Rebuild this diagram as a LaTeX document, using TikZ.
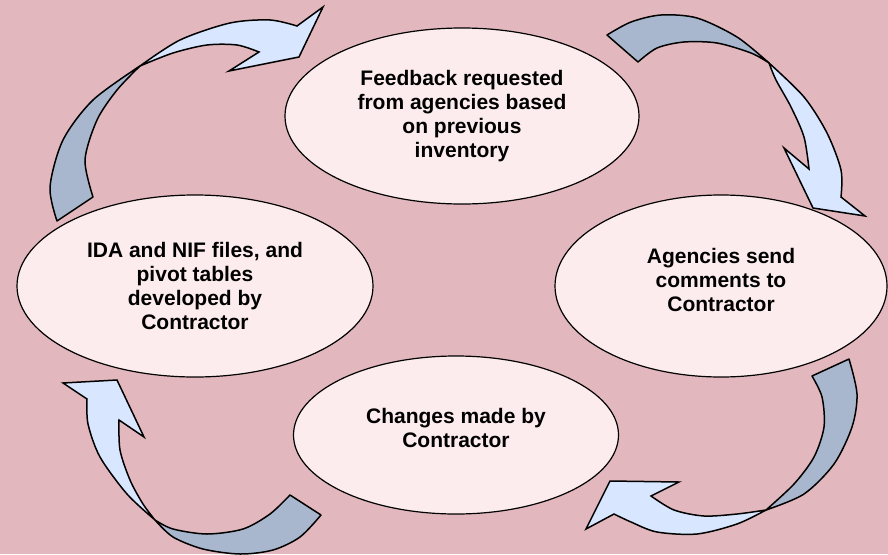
\documentclass[tikz,border=0pt]{standalone}
\usepackage{fontspec}
\setmainfont{Liberation Sans}
\usepackage{tikz}
\usetikzlibrary{shapes.geometric,positioning}

\definecolor{bgpink}{HTML}{E2B8BE}
\definecolor{ovalfill}{HTML}{FDECEE}
\definecolor{arrowback}{HTML}{A8B7CE}
\definecolor{arrowfront}{HTML}{D8E6FF}

\begin{document}
\begin{tikzpicture}[x=1pt,y=-1pt,
    oval/.style={ellipse, draw=black, line width=1.2pt, fill=ovalfill, inner sep=0pt},
    txt/.style={align=center, font=\bfseries\fontsize{21}{24.2}\selectfont},
    back/.style={draw=black, line width=1.5pt, fill=arrowback, line join=round},
    front/.style={draw=black, line width=1.5pt, fill=arrowfront, line join=miter}]
\fill[bgpink] (0,0) rectangle (888,554);
\useasboundingbox (0,0) rectangle (888,554);

\node[oval, minimum width=354pt, minimum height=176pt] (feedback) at (462,116) {};
\node[oval, minimum width=356pt, minimum height=182pt] (ida) at (195,286) {};
\node[oval, minimum width=332pt, minimum height=182pt] (agencies) at (721,286) {};
\node[oval, minimum width=325pt, minimum height=158pt] (changes) at (456,435) {};

\node[txt] (feedbacktxt) at (feedback) {Feedback requested\\from agencies based\\on previous\\inventory};
\node[txt] (idatxt) at (ida) {IDA and NIF files, and\\pivot tables\\developed by\\Contractor};
\node[txt] (agenciestxt) at ([yshift=6pt]agencies.center) {Agencies send\\comments to\\Contractor};
\node[txt] (changestxt) at ([yshift=7pt]changes.center) {Changes made by\\Contractor};

\filldraw[back] (57,221) -- plot[smooth] coordinates {(57,221) (50,187) (63,140) (93,100) (140,66)}
    -- plot[smooth] coordinates {(140,66) (117,90) (97,120) (85,160) (93,197)} -- cycle;
\filldraw[front] (140,66) -- plot[smooth] coordinates {(140,66) (180,40) (230,23) (270,20) (297,26)}
    -- (323,7) -- (299,57) -- (229,71)
    -- plot[smooth] coordinates {(259,52) (237,45) (207,45) (173,53) (140,66)} -- cycle;

\filldraw[back] (607,35) -- plot[smooth] coordinates {(607,35) (631,22) (661,15) (697,18) (737,37) (769,63)}
    -- plot[smooth] coordinates {(769,63) (751,53) (717,43) (684,42) (657,48) (638,62)} -- cycle;
\filldraw[front] (769,63) -- plot[smooth] coordinates {(769,63) (804,97) (827,133) (841,170) (841,197)}
    -- (865,216) -- (813,208) -- (784,148)
    -- plot[smooth] coordinates {(809,169) (804,137) (791,107) (776,80) (769,63)} -- cycle;

\filldraw[back] (849,359) -- plot[smooth] coordinates {(849,359) (857,394) (852,427) (834,464) (804,494) (766,510)}
    -- plot[smooth] coordinates {(766,510) (794,484) (814,457) (824,427) (822,397) (812,376)} -- cycle;
\filldraw[front] (766,510) -- plot[smooth] coordinates {(766,510) (737,524) (697,534) (657,532) (631,522) (614,514)}
    -- (586,529) -- (610,481) -- (679,482)
    -- plot[smooth] coordinates {(651,496) (674,510) (704,516) (737,514) (766,510)} -- cycle;

\filldraw[back] (290,495) -- plot[smooth] coordinates {(290,495) (270,514) (243,529) (207,534) (173,529) (155,520)}
    -- plot[smooth] coordinates {(155,520) (173,537) (203,549) (240,554) (273,550) (300,537) (321,515)} -- cycle;
\filldraw[front] (155,520) -- plot[smooth] coordinates {(155,520) (127,494) (100,457) (88,424) (87,399)}
    -- (63,383) -- (117,380) -- (144,437)
    -- plot[smooth] coordinates {(119,420) (120,450) (130,480) (143,504) (155,520)} -- cycle;
\end{tikzpicture}
\end{document}
